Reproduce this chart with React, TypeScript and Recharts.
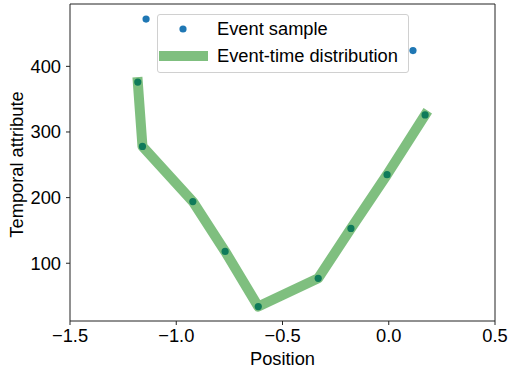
import React from 'react';
import {
    ScatterChart,
    Scatter,
    XAxis,
    YAxis,
    ReferenceLine,
} from 'recharts';

// every event sample (blue dots)
const sampleX = [-1.142, 0.114, -1.181, -1.159, -0.922, -0.770, -0.614, -0.332, -0.178, -0.008, 0.171];
const sampleY = [472, 424, 376, 278, 194, 118, 34, 77, 153, 235, 326];

// points the event-time distribution line goes through
const distX = [-1.181, -1.159, -0.922, -0.770, -0.614, -0.332, -0.178, -0.008, 0.171];
const distY = [376, 278, 194, 118, 34, 77, 153, 235, 326];

const xTicks = [-1.5, -1.0, -0.5, 0.0, 0.5];
const yTicks = [100, 200, 300, 400];

const samples = sampleX.map((x, i) => ({ x, y: sampleY[i] }));
const dist = distX.map((x, i) => ({ x, y: distY[i] }));

const FONT = '"Liberation Sans", Arial, sans-serif';
const FS = 18.3;
const BLUE = '#1f77b4';
const GREEN = '#008000';

const fmtX = (v: number) => v.toFixed(1).replace('-', '\u2212');

const Legend = () => (
    <div
        style={{
            position: 'absolute',
            left: 157,
            top: 14,
            width: 250,
            height: 57,
            border: '1px solid #d0d0d0',
            borderRadius: 3,
            background: 'rgba(255,255,255,0.8)',
            fontFamily: FONT,
            fontSize: FS,
            color: '#000',
        }}
    >
        <svg width={60} height={57} style={{ position: 'absolute', left: 0, top: 0 }}>
            <circle cx={25} cy={14} r={3.6} fill={BLUE} />
            <line x1={1} y1={41} x2={50} y2={41} stroke={GREEN} strokeOpacity={0.5} strokeWidth={10} />
        </svg>
        <div style={{ position: 'absolute', left: 59, top: 3, lineHeight: '21px' }}>Event sample</div>
        <div style={{ position: 'absolute', left: 59, top: 30, lineHeight: '21px' }}>Event-time distribution</div>
    </div>
);

export default function App() {
    return (
        <div style={{ position: 'absolute', left: 0, top: 0, width: 508, height: 372, background: '#fff' }}>
            <ScatterChart
                width={508}
                height={372}
                margin={{ top: 4, right: 13, left: 0, bottom: 0 }}
                style={{ fontFamily: FONT }}
            >
                <XAxis
                    type="number"
                    dataKey="x"
                    domain={[-1.5, 0.5]}
                    ticks={xTicks}
                    tickFormatter={fmtX}
                    height={51}
                    tickSize={4}
                    tickMargin={4}
                    stroke="#222"
                    tick={{ fill: '#000', fontSize: FS }}
                    allowDataOverflow
                    label={{
                        content: ({ viewBox }: any) => (
                            <text
                                x={viewBox.x + viewBox.width / 2}
                                y={365}
                                textAnchor="middle"
                                fontSize={FS}
                                fill="#000"
                                fontFamily={FONT}
                            >
                                Position
                            </text>
                        ),
                    }}
                />
                <YAxis
                    type="number"
                    dataKey="y"
                    domain={[12, 495]}
                    ticks={yTicks}
                    width={70}
                    tickSize={4}
                    tickMargin={5}
                    stroke="#222"
                    tick={{ fill: '#000', fontSize: FS }}
                    allowDataOverflow
                    label={{
                        content: ({ viewBox }: any) => {
                            const cy = viewBox.y + viewBox.height / 2 + 2;
                            return (
                                <text
                                    x={23}
                                    y={cy}
                                    transform={`rotate(-90, 23, ${cy})`}
                                    textAnchor="middle"
                                    fontSize={FS}
                                    fill="#000"
                                    fontFamily={FONT}
                                >
                                    Temporal attribute
                                </text>
                            );
                        },
                    }}
                />
                <ReferenceLine y={495} stroke="#222" />
                <ReferenceLine x={0.5} stroke="#222" />
                <Scatter
                    name="Event sample"
                    data={samples}
                    fill={BLUE}
                    isAnimationActive={false}
                    shape={(p: any) => <circle cx={p.cx} cy={p.cy} r={3.6} fill={BLUE} />}
                />
                <Scatter
                    name="Event-time distribution"
                    data={dist}
                    fill={GREEN}
                    isAnimationActive={false}
                    line={{
                        stroke: GREEN,
                        strokeOpacity: 0.5,
                        strokeWidth: 10,
                        strokeLinecap: 'square',
                        strokeLinejoin: 'round',
                    }}
                    lineType="joint"
                    shape={() => <g />}
                />
            </ScatterChart>
            <Legend />
        </div>
    );
}
